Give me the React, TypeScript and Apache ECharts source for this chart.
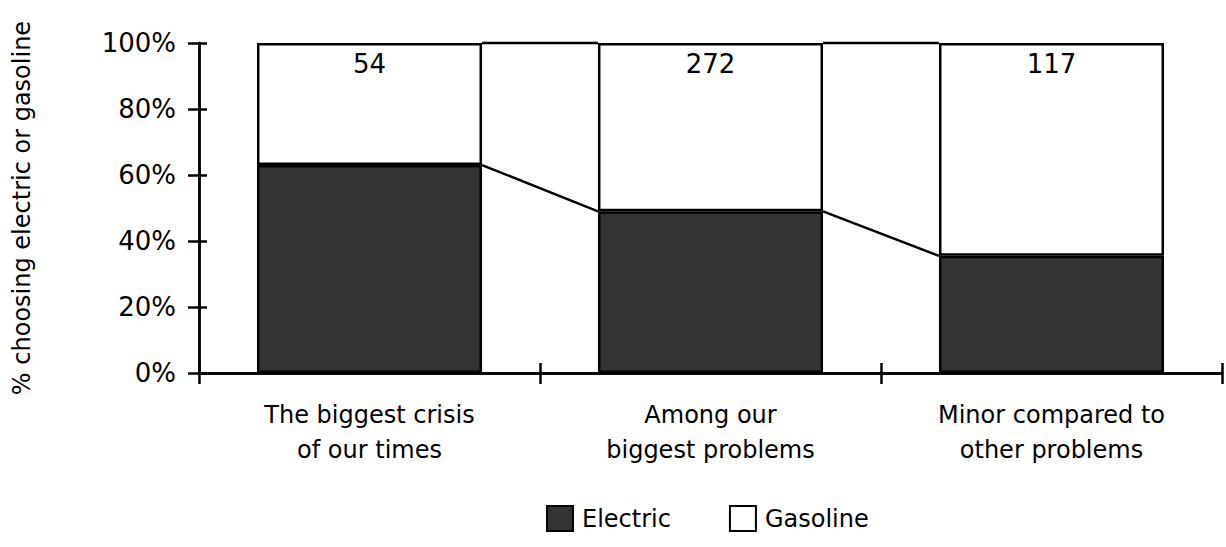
import React, { useEffect, useRef } from "react";
import * as echarts from "echarts";

const categories = [
  "The biggest crisis\nof our times",
  "Among our\nbiggest problems",
  "Minor compared to\nother problems",
];
const electric = [63, 49, 35.5];
const gasoline = [37, 51, 64.5];
const nCounts = ["54", "272", "117"];
const yTicks = [0, 20, 40, 60, 80, 100];

const FONT = "DejaVu Sans";
const GAP = 0.34;

export default function App() {
  const ref = useRef<HTMLDivElement>(null);
  useEffect(() => {
    if (!ref.current) return;
    const chart = echarts.init(ref.current, null, { renderer: "svg" });

    const totals = electric.map((e, i) => e + gasoline[i]);
    const seg = (vals: number[]) =>
      vals.slice(0, -1).map((v, i) => [i, v, vals[i + 1]]);

    const renderSeg = (_params: any, api: any) => {
      const i = api.value(0);
      const v0 = api.value(1);
      const v1 = api.value(2);
      const cat = api.size([1, 0])[0];
      const half = (cat * (1 - GAP)) / 2;
      const p0 = api.coord([i, v0]);
      const p1 = api.coord([i + 1, v1]);
      return {
        type: "line",
        shape: { x1: p0[0] + half, y1: p0[1], x2: p1[0] - half, y2: p1[1] },
        style: { stroke: "#000", lineWidth: 2.5 },
      };
    };

    const axisLineStyle = { color: "#000", width: 2.5 };

    chart.setOption({
      animation: false,
      textStyle: { fontFamily: FONT, color: "#000" },
      grid: { left: 199, right: 4, top: 43, bottom: 174, containLabel: false },
      legend: {
        data: ["Electric", "Gasoline"],
        left: 541,
        top: 500,
        icon: "rect",
        itemWidth: 26,
        itemHeight: 25,
        itemGap: 58,
        textStyle: { fontFamily: FONT, fontSize: 24, color: "#000", padding: [0, 0, 0, 4] },
      },
      xAxis: [
        {
          type: "category",
          data: categories,
          position: "bottom",
          axisLine: { lineStyle: axisLineStyle },
          axisTick: { show: true, length: 11, lineStyle: axisLineStyle },
          axisLabel: {
            fontFamily: FONT,
            fontSize: 24,
            color: "#000",
            lineHeight: 35,
            margin: 24,
          },
        },
        {
          type: "category",
          data: categories,
          position: "bottom",
          axisLine: { show: true, lineStyle: axisLineStyle },
          axisTick: { show: true, inside: true, length: 10, lineStyle: axisLineStyle },
          axisLabel: { show: false },
        },
      ],
      yAxis: [
        {
          type: "value",
          min: yTicks[0],
          max: yTicks[yTicks.length - 1],
          interval: 20,
          position: "left",
          name: "% choosing electric or gasoline",
          nameLocation: "middle",
          nameGap: 165,
          nameTextStyle: { fontFamily: FONT, fontSize: 24, color: "#000" },
          axisLine: { show: true, lineStyle: axisLineStyle },
          axisTick: { show: true, length: 11, lineStyle: axisLineStyle },
          axisLabel: {
            formatter: "{value}%",
            fontFamily: FONT,
            fontSize: 26,
            color: "#000",
            margin: 23,
          },
          splitLine: { show: false },
        },
        {
          type: "value",
          min: yTicks[0],
          max: yTicks[yTicks.length - 1],
          interval: 20,
          position: "left",
          axisLine: { show: true, lineStyle: axisLineStyle },
          axisTick: { show: true, inside: true, length: 8, lineStyle: axisLineStyle },
          axisLabel: { show: false },
          splitLine: { show: false },
        },
      ],
      series: [
        {
          name: "Electric",
          type: "bar",
          stack: "total",
          data: electric,
          barCategoryGap: GAP * 100 + "%",
          itemStyle: { color: "#333333", borderColor: "#000", borderWidth: 2.5 },
        },
        {
          name: "Gasoline",
          type: "bar",
          stack: "total",
          data: gasoline,
          itemStyle: { color: "#fff", borderColor: "#000", borderWidth: 2.5 },
          label: {
            show: true,
            position: "insideTop",
            distance: 8,
            formatter: (p: any) => nCounts[p.dataIndex],
            fontFamily: FONT,
            fontSize: 26,
            color: "#000",
          },
        },
        {
          name: "elecLine",
          type: "custom",
          xAxisIndex: 1,
          yAxisIndex: 1,
          renderItem: renderSeg,
          data: seg(electric),
          z: 5,
          silent: true,
        },
        {
          name: "totalLine",
          type: "custom",
          xAxisIndex: 1,
          yAxisIndex: 1,
          renderItem: renderSeg,
          data: seg(totals),
          z: 5,
          silent: true,
        },
      ],
    });
    return () => chart.dispose();
  }, []);
  return (
    <div
      ref={ref}
      style={{ position: "fixed", left: 0, top: 0, width: 1226, height: 547, background: "#fff" }}
    />
  );
}
